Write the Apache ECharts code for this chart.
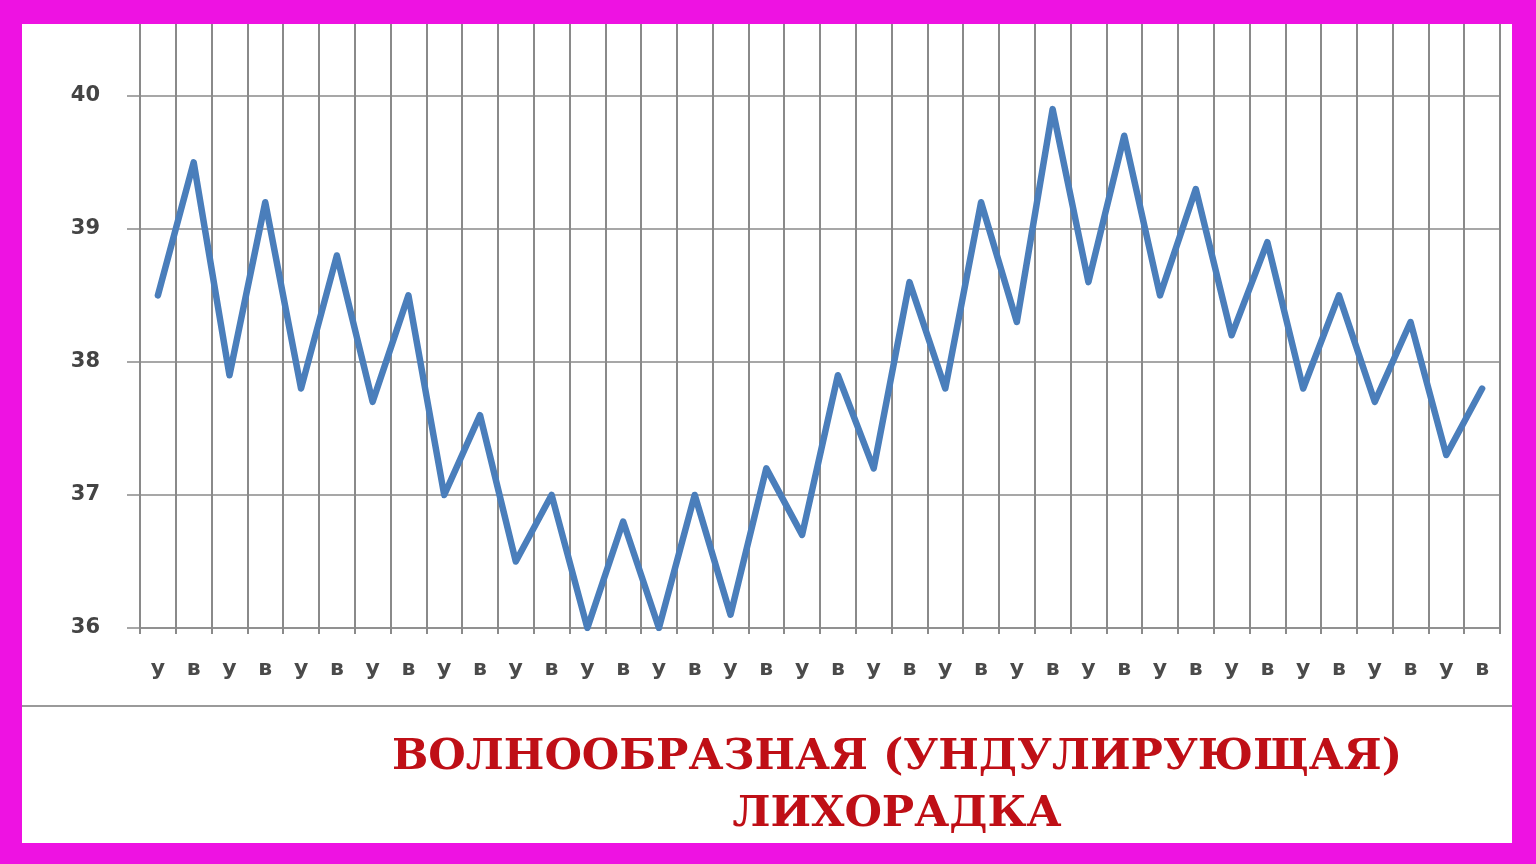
<!DOCTYPE html>
<html>
<head>
<meta charset="utf-8">
<script src="https://cdn.jsdelivr.net/npm/echarts@6/dist/echarts.min.js"></script>
<style>
  html, body { margin: 0; padding: 0; width: 1536px; height: 864px; background: #ee12e2; overflow: hidden; }
  #chart { position: absolute; left: 22px; top: 24px; width: 1490px; height: 819px; background: #ffffff; }
</style>
</head>
<body>
<div id="chart"></div>
<script>
// Categories: morning (у) / evening (в) measurements
const categories = [
  'у','в','у','в','у','в','у','в','у','в',
  'у','в','у','в','у','в','у','в','у','в',
  'у','в','у','в','у','в','у','в','у','в',
  'у','в','у','в','у','в','у','в'
];
// Body temperature, °C
const temperature = [
  38.5, 39.5, 37.9, 39.2, 37.8, 38.8, 37.7, 38.5, 37.0, 37.6,
  36.5, 37.0, 36.0, 36.8, 36.0, 37.0, 36.1, 37.2, 36.7, 37.9,
  37.2, 38.6, 37.8, 39.2, 38.3, 39.9, 38.6, 39.7, 38.5, 39.3,
  38.2, 38.9, 37.8, 38.5, 37.7, 38.3, 37.3, 37.8
];
const yTicks = [36, 37, 38, 39, 40];
const titleLine1 = 'ВОЛНООБРАЗНАЯ (УНДУЛИРУЮЩАЯ)';
const titleLine2 = 'ЛИХОРАДКА';

const gridColor = '#8a8a8a';
const chart = echarts.init(document.getElementById('chart'), null, { renderer: 'canvas' });
chart.setOption({
  animation: false,
  backgroundColor: '#ffffff',
  grid: { left: 118, right: 12, top: 0, bottom: 215, containLabel: false },
  xAxis: {
    type: 'category',
    data: categories,
    boundaryGap: true,
    axisLine: { show: true, lineStyle: { color: gridColor, width: 1.5 } },
    axisTick: { show: true, interval: 0, length: 6, lineStyle: { color: gridColor, width: 2 } },
    splitLine: { show: true, interval: 0, lineStyle: { color: gridColor, width: 2 } },
    axisLabel: {
      interval: 0, margin: 30,
      fontFamily: 'DejaVu Sans', fontWeight: 'bold', fontSize: 22, color: '#4a4a4a'
    }
  },
  yAxis: {
    type: 'value',
    min: 36, max: 40.54, interval: 1,
    axisLine: { show: true, lineStyle: { color: gridColor, width: 2 } },
    axisTick: { show: true, length: 13, customValues: yTicks, lineStyle: { color: gridColor, width: 1.5 } },
    splitLine: { show: true, lineStyle: { color: gridColor, width: 1.5 } },
    axisLabel: {
      customValues: yTicks, margin: 40,
      fontFamily: 'DejaVu Sans', fontWeight: 'bold', fontSize: 21, color: '#444444'
    }
  },
  series: [{
    type: 'line',
    data: temperature,
    showSymbol: false,
    smooth: false,
    lineStyle: { color: '#4a7ebb', width: 6.5, join: 'round', cap: 'round' },
    itemStyle: { color: '#4a7ebb' }
  }],
  graphic: [
    { type: 'line', shape: { x1: 0, y1: 682, x2: 1490, y2: 682 }, style: { stroke: '#9a9a9a', lineWidth: 2 } },
    { type: 'text', x: 875, y: 734, style: { text: titleLine1, fill: '#bf0f16', font: 'bold 43px "DejaVu Serif"', textAlign: 'center', textVerticalAlign: 'middle' } },
    { type: 'text', x: 875, y: 791, style: { text: titleLine2, fill: '#bf0f16', font: 'bold 43px "DejaVu Serif"', textAlign: 'center', textVerticalAlign: 'middle' } }
  ]
});
</script>
</body>
</html>
